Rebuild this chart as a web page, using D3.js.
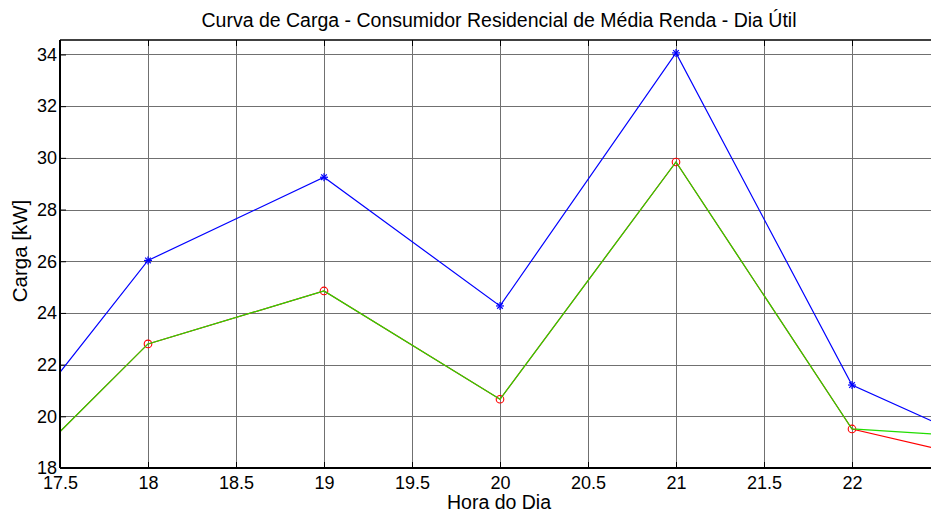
<!DOCTYPE html>
<html><head><meta charset="utf-8">
<script src="https://cdn.jsdelivr.net/npm/d3@7"></script>
<style>body{margin:0;background:#fff}svg{display:block}text{font-family:"Liberation Sans",Arial,sans-serif}</style>
</head><body>
<svg id="c" width="931" height="512"></svg>
<script>
const hours = [17, 18, 19, 20, 21, 22, 23];
const blueLoad = [17.38, 26.03, 29.25, 24.27, 34.06, 21.21, 18.15];
const redLoad = [16.02, 22.80, 24.85, 20.66, 29.84, 19.51, 17.93];
const greenLoad = [16.02, 22.80, 24.85, 20.66, 29.84, 19.51, 19.09];
const markerHours = [18, 19, 20, 21, 22];
const xTicks = [17.5, 18, 18.5, 19, 19.5, 20, 20.5, 21, 21.5, 22];
const yTicks = [18, 20, 22, 24, 26, 28, 30, 32, 34];

const svg = d3.select("#c");
const L = 60, T = 40, B = 468, R = 940;
const x = d3.scaleLinear().domain([17.5, 22.5]).range([L, R]);
const y = d3.scaleLinear().domain([18, 34.56]).range([B, T]);

svg.append("rect").attr("x",0).attr("y",0).attr("width",931).attr("height",512).attr("fill","#fff");
svg.append("defs").append("clipPath").attr("id","clip")
  .append("rect").attr("x",L).attr("y",T).attr("width",R-L).attr("height",B-T);

// grid
const grid = svg.append("g").attr("stroke","#707070").attr("stroke-width",1);
xTicks.forEach(t => grid.append("line").attr("x1",Math.round(x(t))+0.5).attr("x2",Math.round(x(t))+0.5).attr("y1",T).attr("y2",B));
yTicks.forEach(t => grid.append("line").attr("x1",L).attr("x2",R).attr("y1",Math.round(y(t))+0.5).attr("y2",Math.round(y(t))+0.5));

// axes
const xAxisB = d3.axisBottom(x).tickValues(xTicks).tickSize(-6).tickPadding(8).tickFormat(d3.format("~g"));
const xAxisT = d3.axisTop(x).tickValues(xTicks).tickSize(-6).tickFormat("");
const yAxisL = d3.axisLeft(y).tickValues(yTicks).tickSize(-6).tickPadding(3).tickFormat(d3.format("~g"));
function styleAxis(g){ g.select(".domain").remove(); g.selectAll(".tick line").attr("stroke","#000"); g.selectAll("text").attr("font-size",18).attr("fill","#000").attr("font-family","Liberation Sans, Arial, sans-serif"); }
svg.append("g").attr("transform",`translate(0,${B})`).call(xAxisB).call(styleAxis);
svg.append("g").attr("transform",`translate(0,${T})`).call(xAxisT).call(styleAxis);
svg.append("g").attr("transform",`translate(${L},0)`).call(yAxisL).call(styleAxis);

// data lines
const plot = svg.append("g").attr("clip-path","url(#clip)");
const line = d3.line().x(d=>x(d[0])).y(d=>y(d[1]));
const zip = arr => hours.map((h,i)=>[h,arr[i]]);
plot.append("path").datum(zip(blueLoad)).attr("d",line).attr("fill","none").attr("stroke","#0000ff").attr("stroke-width",1.2);
plot.append("path").datum(zip(redLoad)).attr("d",line).attr("fill","none").attr("stroke","#ff0000").attr("stroke-width",1.2);
// blue star markers
hours.forEach((h,i)=>{ if(markerHours.includes(h)){
  const cx=x(h), cy=y(blueLoad[i]), s=4;
  const g=plot.append("g").attr("stroke","#0000ff").attr("stroke-width",1.2);
  g.append("line").attr("x1",cx-s).attr("x2",cx+s).attr("y1",cy).attr("y2",cy);
  g.append("line").attr("x1",cx).attr("x2",cx).attr("y1",cy-s).attr("y2",cy+s);
  g.append("line").attr("x1",cx-s*0.7).attr("x2",cx+s*0.7).attr("y1",cy-s*0.7).attr("y2",cy+s*0.7);
  g.append("line").attr("x1",cx-s*0.7).attr("x2",cx+s*0.7).attr("y1",cy+s*0.7).attr("y2",cy-s*0.7);
}});
// red circle markers
hours.forEach((h,i)=>{ if(markerHours.includes(h)){
  plot.append("circle").attr("cx",x(h)).attr("cy",y(redLoad[i])).attr("r",3.8).attr("fill","none").attr("stroke","#ff0000").attr("stroke-width",1.1);
}});
plot.append("path").datum(zip(greenLoad)).attr("d",line).attr("fill","none").attr("stroke","#22dd00").attr("stroke-width",1.2);

// frame
svg.append("line").attr("x1",L).attr("x2",R).attr("y1",T).attr("y2",T).attr("stroke","#000").attr("stroke-width",1.5);
svg.append("line").attr("x1",L).attr("x2",R).attr("y1",B).attr("y2",B).attr("stroke","#000").attr("stroke-width",2);
svg.append("line").attr("x1",L).attr("x2",L).attr("y1",T).attr("y2",B).attr("stroke","#000").attr("stroke-width",2);

// titles
svg.append("text").attr("x",499).attr("y",27).attr("text-anchor","middle").attr("font-size",19.5).text("Curva de Carga - Consumidor Residencial de Média Renda - Dia Útil");
svg.append("text").attr("x",499).attr("y",509).attr("text-anchor","middle").attr("font-size",19.5).text("Hora do Dia");
svg.append("text").attr("transform","translate(27,251) rotate(-90)").attr("text-anchor","middle").attr("font-size",20.5).text("Carga [kW]");
</script>
</body></html>
